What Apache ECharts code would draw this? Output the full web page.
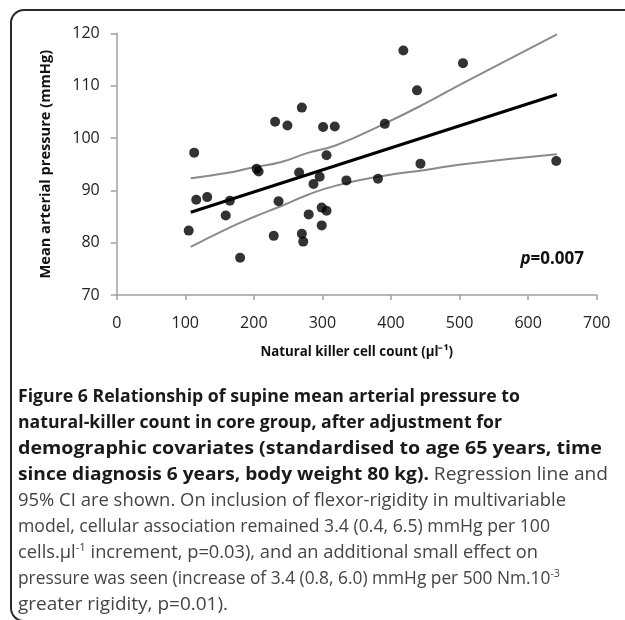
<!DOCTYPE html>
<html>
<head>
<meta charset="utf-8">
<script src="https://cdn.jsdelivr.net/npm/echarts@6/dist/echarts.min.js"></script>
<style>
  html, body { margin: 0; padding: 0; background: #fff; }
  #wrap { position: relative; width: 625px; height: 620px; overflow: hidden; }
  #frame {
    position: absolute; left: 10px; top: 9px; width: 700px; height: 613px;
    border: 2px solid #2a2a2a; border-radius: 14px; box-sizing: border-box;
  }
  #main { position: absolute; left: 0; top: 0; width: 625px; height: 620px; }
  #cap {
    position: absolute; left: 18px; top: 382px; width: 605px;
    font-family: "Open Sans", sans-serif; font-size: 17.8px; line-height: 26px;
    color: #444; white-space: nowrap;
  }
  #cap .ln { height: 26px; }
  #cap .ln span { display: inline-block; transform-origin: 0 50%; }
  #cap b { color: #1a1a1a; font-weight: 700; }
  #cap sup { font-size: 11px; line-height: 0; vertical-align: 7px; }
</style>
</head>
<body>
<div id="wrap">
  <div id="frame"></div>
  <div id="main"></div>
  <div id="cap">
    <div class="ln"><span><b>Figure 6 Relationship of supine mean arterial pressure to</b></span></div>
    <div class="ln"><span><b>natural-killer count in core group, after adjustment for</b></span></div>
    <div class="ln"><span><b>demographic covariates (standardised to age 65 years, time</b></span></div>
    <div class="ln"><span><b>since diagnosis 6 years, body weight 80 kg).</b> Regression line and</span></div>
    <div class="ln"><span>95% CI are shown. On inclusion of flexor-rigidity in multivariable</span></div>
    <div class="ln"><span>model, cellular association remained 3.4 (0.4, 6.5) mmHg per 100</span></div>
    <div class="ln"><span>cells.µl<sup>-1</sup> increment, p=0.03), and an additional small effect on</span></div>
    <div class="ln"><span>pressure was seen (increase of 3.4 (0.8, 6.0) mmHg per 500 Nm.10<sup>-3</sup></span></div>
    <div class="ln"><span>greater rigidity, p=0.01).</span></div>
  </div>
</div>
<script>
// natural killer count (per µl) and mean arterial pressure (mmHg)
const nkCount = [105, 113, 116, 132, 159, 165, 180, 204, 207, 229, 231, 236, 249, 266, 270, 270, 272,
  280, 287, 296, 299, 299, 301, 306, 306, 318, 335, 381, 391, 418, 438, 443, 505, 641];
const meanAP = [82.3, 97.2, 88.2, 88.7, 85.2, 88.0, 77.1, 94.1, 93.6, 81.3, 103.1, 87.9, 102.4, 93.4, 105.8, 81.7, 80.2,
  85.4, 91.2, 92.6, 86.7, 83.3, 102.1, 86.1, 96.7, 102.2, 91.9, 92.2, 102.7, 116.7, 109.1, 95.1, 114.3, 95.6];

// regression line end points
const fitX = [108, 642];
const fitY = [85.8, 108.3];

// 95% CI bands
const ciX = [108, 160, 200, 240, 280, 320, 390, 450, 505, 642];
const ciUpper = [92.3, 93.3, 94.4, 95.4, 97.2, 98.6, 102.7, 106.6, 110.5, 119.8];
const ciLower = [79.2, 82.6, 84.9, 87.0, 89.2, 90.9, 92.8, 93.9, 95.0, 96.9];

const xTicks = { min: 0, max: 700, interval: 100 };
const yTicks = { min: 70, max: 120, interval: 10 };

// widths of the caption lines as printed (px), so the wrapping looks the same
const captionWidths = [502, 484, 584, 590, 548, 532, 520, 542, 210];

const pair = (xs, ys) => xs.map((x, i) => [x, ys[i]]);

// stretch each caption line a little so it ends where the printed one does
const fitCaption = () => {
  document.querySelectorAll('#cap .ln span').forEach((el, i) => {
    el.style.transform = 'none';
    const natural = el.getBoundingClientRect().width;
    const k = Math.max(0.9, Math.min(1.12, captionWidths[i] / natural));
    el.style.transform = 'scaleX(' + k.toFixed(4) + ')';
  });
};

const chart = echarts.init(document.getElementById('main'));
const axisFont = { fontFamily: 'Open Sans', fontSize: 16, color: '#222' };

chart.setOption({
  animation: false,
  grid: { left: 116.7, right: 28.3, top: 33.3, bottom: 325, outerBoundsMode: 'none' },
  xAxis: {
    type: 'value',
    min: xTicks.min, max: xTicks.max, interval: xTicks.interval,
    name: 'Natural killer cell count (µl⁻¹)',
    nameLocation: 'middle',
    nameGap: 51,
    nameTextStyle: { fontFamily: 'Open Sans', fontSize: 13.3, fontWeight: 'bold', color: '#111' },
    axisLine: { lineStyle: { color: '#a0a0a0', width: 1.5 } },
    axisTick: { show: true, length: 5, lineStyle: { color: '#a0a0a0', width: 1.5 } },
    axisLabel: Object.assign({ margin: 20 }, axisFont),
    splitLine: { show: false }
  },
  yAxis: {
    type: 'value',
    min: yTicks.min, max: yTicks.max, interval: yTicks.interval,
    name: 'Mean arterial pressure (mmHg)',
    nameLocation: 'middle',
    nameGap: 63,
    nameRotate: 90,
    nameTextStyle: { fontFamily: 'Open Sans', fontSize: 14.6, fontWeight: 'bold', color: '#111' },
    axisLine: { show: true, lineStyle: { color: '#a0a0a0', width: 1.5 } },
    axisTick: { show: true, length: 6, lineStyle: { color: '#a0a0a0', width: 1.5 } },
    axisLabel: Object.assign({ margin: 17 }, axisFont),
    splitLine: { show: false }
  },
  graphic: [{
    type: 'text',
    right: 41,
    top: 251,
    style: {
      text: '{i|p}=0.007',
      font: 'bold 17px "Open Sans"',
      fill: '#111',
      rich: {
        i: { fontStyle: 'italic', fontWeight: 'bold', fontSize: 17, fontFamily: 'Open Sans', fill: '#111' }
      }
    }
  }],
  series: [
    {
      name: 'upper',
      type: 'line',
      data: pair(ciX, ciUpper),
      smooth: true,
      showSymbol: false,
      lineStyle: { color: '#8a8a8a', width: 2 },
      z: 1
    },
    {
      name: 'lower',
      type: 'line',
      data: pair(ciX, ciLower),
      smooth: true,
      showSymbol: false,
      lineStyle: { color: '#8a8a8a', width: 2 },
      z: 1
    },
    {
      name: 'fit',
      type: 'line',
      data: pair(fitX, fitY),
      showSymbol: false,
      lineStyle: { color: '#000', width: 3 },
      z: 2
    },
    {
      name: 'patients',
      type: 'scatter',
      data: pair(nkCount, meanAP),
      symbolSize: 10,
      itemStyle: { color: '#000' },
      z: 3
    }
  ]
});

fitCaption();
if (document.fonts) document.fonts.ready.then(fitCaption);
</script>
</body>
</html>
